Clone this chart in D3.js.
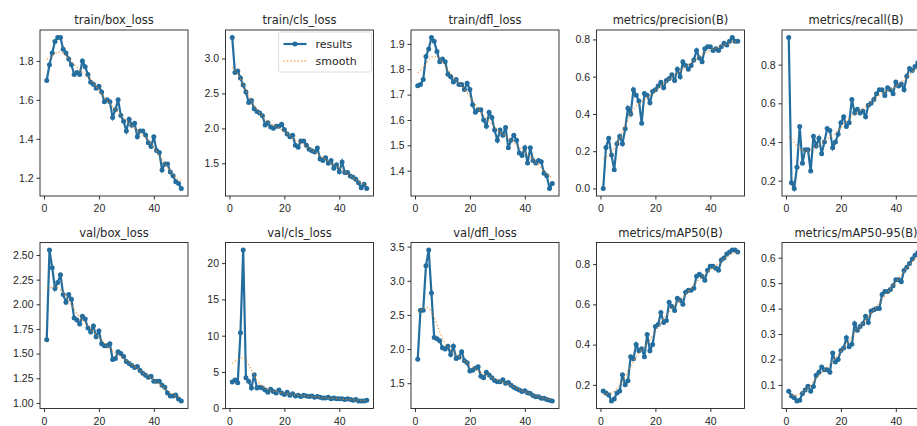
<!DOCTYPE html>
<html>
<head>
<meta charset="utf-8">
<script src="https://cdn.jsdelivr.net/npm/d3@7"></script>
<style>
  html, body { margin: 0; padding: 0; background: #fff; }
  svg { display: block; font-family: "DejaVu Sans", sans-serif; }
  .tick text { fill: #262626; font-size: 10.5px; }
  .tick line { stroke: #333; }
</style>
</head>
<body>
<svg id="chart"></svg>
<script>
'use strict';
const epochs = d3.range(1, 51);

const trainBoxLoss = [1.70, 1.78, 1.84, 1.90, 1.92, 1.92, 1.86, 1.84, 1.81, 1.78,
  1.73, 1.74, 1.73, 1.80, 1.77, 1.73, 1.69, 1.68, 1.66, 1.67,
  1.64, 1.59, 1.60, 1.59, 1.51, 1.55, 1.60, 1.52, 1.49, 1.44,
  1.50, 1.47, 1.48, 1.41, 1.44, 1.44, 1.42, 1.38, 1.36, 1.41,
  1.34, 1.33, 1.24, 1.27, 1.27, 1.23, 1.21, 1.18, 1.17, 1.145];
const trainClsLoss = [3.30, 2.80, 2.82, 2.72, 2.62, 2.52, 2.37, 2.40, 2.28, 2.24,
  2.22, 2.18, 2.05, 2.08, 2.02, 2.00, 2.03, 2.03, 2.06, 1.98,
  1.92, 1.88, 1.90, 1.76, 1.73, 1.82, 1.82, 1.76, 1.70, 1.68,
  1.66, 1.72, 1.56, 1.54, 1.58, 1.50, 1.54, 1.43, 1.48, 1.38,
  1.52, 1.37, 1.37, 1.32, 1.30, 1.27, 1.22, 1.15, 1.20, 1.14];
const trainDflLoss = [1.735, 1.74, 1.76, 1.85, 1.88, 1.925, 1.91, 1.87, 1.83, 1.84,
  1.83, 1.78, 1.77, 1.75, 1.76, 1.74, 1.74, 1.72, 1.745, 1.72,
  1.66, 1.63, 1.64, 1.64, 1.60, 1.575, 1.63, 1.61, 1.56, 1.52,
  1.56, 1.54, 1.57, 1.49, 1.52, 1.54, 1.52, 1.47, 1.46, 1.49,
  1.43, 1.49, 1.44, 1.43, 1.44, 1.435, 1.39, 1.38, 1.33, 1.35];
const precision = [0.00, 0.22, 0.27, 0.18, 0.10, 0.24, 0.28, 0.24, 0.32, 0.43,
  0.40, 0.53, 0.50, 0.47, 0.35, 0.51, 0.50, 0.46, 0.52, 0.53,
  0.55, 0.57, 0.54, 0.58, 0.59, 0.61, 0.58, 0.64, 0.60, 0.68,
  0.66, 0.64, 0.66, 0.69, 0.74, 0.70, 0.68, 0.75, 0.76, 0.76,
  0.74, 0.75, 0.74, 0.76, 0.78, 0.77, 0.79, 0.81, 0.79, 0.79];
const recall = [0.94, 0.19, 0.16, 0.27, 0.48, 0.29, 0.36, 0.36, 0.25, 0.43,
  0.38, 0.42, 0.34, 0.40, 0.47, 0.46, 0.37, 0.40, 0.44, 0.50,
  0.53, 0.48, 0.50, 0.62, 0.55, 0.57, 0.55, 0.56, 0.53, 0.59,
  0.60, 0.62, 0.65, 0.67, 0.67, 0.64, 0.68, 0.67, 0.65, 0.71,
  0.69, 0.70, 0.67, 0.74, 0.78, 0.77, 0.79, 0.81, 0.79, 0.80];
const valBoxLoss = [1.64, 2.55, 2.37, 2.16, 2.22, 2.30, 2.10, 2.02, 2.10, 2.05,
  1.86, 1.84, 1.80, 1.88, 1.85, 1.76, 1.72, 1.78, 1.67, 1.73,
  1.60, 1.58, 1.58, 1.60, 1.44, 1.45, 1.52, 1.50, 1.47, 1.42,
  1.40, 1.38, 1.36, 1.37, 1.33, 1.30, 1.28, 1.26, 1.27, 1.22,
  1.22, 1.22, 1.18, 1.16, 1.10, 1.07, 1.07, 1.08, 1.04, 1.02];
const valClsLoss = [3.6, 3.9, 3.5, 10.4, 21.8, 4.2, 3.7, 2.8, 4.6, 2.8,
  2.9, 2.8, 2.5, 2.2, 2.6, 2.3, 2.1, 2.5, 2.1, 1.9,
  2.2, 1.8, 2.0, 1.7, 1.8, 1.6, 1.8, 1.7, 1.6, 1.7,
  1.5, 1.6, 1.5, 1.4, 1.4, 1.5, 1.3, 1.4, 1.3, 1.3,
  1.3, 1.2, 1.3, 1.2, 1.1, 1.2, 1.0, 1.0, 1.0, 1.1];
const valDflLoss = [1.85, 2.57, 2.57, 3.22, 3.45, 2.82, 2.17, 2.15, 2.12, 2.02,
  2.00, 2.04, 1.92, 2.04, 1.86, 1.88, 1.96, 1.83, 1.80, 1.68,
  1.69, 1.72, 1.74, 1.60, 1.58, 1.66, 1.62, 1.58, 1.54, 1.52,
  1.52, 1.55, 1.50, 1.51, 1.47, 1.44, 1.42, 1.40, 1.38, 1.39,
  1.36, 1.35, 1.32, 1.30, 1.30, 1.28, 1.28, 1.26, 1.25, 1.24];
const mAP50 = [0.17, 0.16, 0.15, 0.12, 0.13, 0.16, 0.17, 0.25, 0.20, 0.22,
  0.34, 0.33, 0.40, 0.37, 0.38, 0.34, 0.45, 0.37, 0.40, 0.49,
  0.50, 0.56, 0.51, 0.52, 0.61, 0.59, 0.57, 0.63, 0.62, 0.60,
  0.66, 0.67, 0.67, 0.68, 0.74, 0.75, 0.74, 0.72, 0.77, 0.79,
  0.79, 0.78, 0.77, 0.82, 0.83, 0.85, 0.86, 0.87, 0.87, 0.86];
const mAP5095 = [0.075, 0.056, 0.05, 0.037, 0.04, 0.066, 0.08, 0.095, 0.075, 0.094,
  0.138, 0.15, 0.17, 0.16, 0.16, 0.15, 0.225, 0.19, 0.20, 0.235,
  0.245, 0.285, 0.25, 0.26, 0.34, 0.315, 0.33, 0.34, 0.37, 0.345,
  0.39, 0.395, 0.40, 0.40, 0.455, 0.467, 0.467, 0.475, 0.49, 0.513,
  0.513, 0.505, 0.55, 0.562, 0.577, 0.595, 0.61, 0.62, 0.62, 0.63];

const titles = ['train/box_loss', 'train/cls_loss', 'train/dfl_loss', 'metrics/precision(B)', 'metrics/recall(B)',
  'val/box_loss', 'val/cls_loss', 'val/dfl_loss', 'metrics/mAP50(B)', 'metrics/mAP50-95(B)'];
const xTicks = [0, 20, 40];
const yTicks = [
  [1.2, 1.4, 1.6, 1.8],
  [1.5, 2.0, 2.5, 3.0],
  [1.4, 1.5, 1.6, 1.7, 1.8, 1.9],
  [0.0, 0.2, 0.4, 0.6, 0.8],
  [0.2, 0.4, 0.6, 0.8],
  [1.00, 1.25, 1.50, 1.75, 2.00, 2.25, 2.50],
  [0, 5, 10, 15, 20],
  [1.5, 2.0, 2.5, 3.0, 3.5],
  [0.2, 0.4, 0.6, 0.8],
  [0.1, 0.2, 0.3, 0.4, 0.5, 0.6]
];
const yFormats = ['.1f', '.1f', '.1f', '.1f', '.1f', '.2f', 'd', '.1f', '.1f', '.1f'];
const series = [trainBoxLoss, trainClsLoss, trainDflLoss, precision, recall,
  valBoxLoss, valClsLoss, valDflLoss, mAP50, mAP5095];
const legendLabels = ['results', 'smooth'];

const W = 917, H = 426;
const lineColor = '#236e9e', smoothColor = '#ff7f0e';
const svg = d3.select('#chart').attr('width', W).attr('height', H);

// gaussian smoothing like scipy gaussian_filter1d (sigma 3, reflect)
function smooth(y, sigma) {
    var r = Math.floor(4 * sigma + 0.5), k = [], s = 0;
    for (var i = -r; i <= r; i++) { var v = Math.exp(-0.5 * i * i / (sigma * sigma)); k.push(v); s += v; }
    k = k.map(function(v) { return v / s; });
    var n = y.length;
    function at(i) {
        while (i < 0 || i >= n) { i = i < 0 ? -i - 1 : 2 * n - i - 1; }
        return y[i];
    }
    return y.map(function(_, j) {
        var acc = 0;
        for (var i = -r; i <= r; i++) acc += k[i + r] * at(j + i);
        return acc;
    });
}
function pad(ext) {
    var m = (ext[1] - ext[0]) * 0.05;
    return [ext[0] - m, ext[1] + m];
}

const pw = 148, ph = 166;
series.forEach(function(vals, i) {
    var col = i % 5, row = Math.floor(i / 5);
    var left = 40 + col * 185.5, top = row ? 242.5 : 30;
    var g = svg.append('g').attr('transform', 'translate(' + left + ',' + top + ')');
    var sm = smooth(vals, 3);
    var x = d3.scaleLinear().domain(pad(d3.extent(epochs))).range([0, pw]);
    var y = d3.scaleLinear().domain(pad(d3.extent(vals.concat(sm)))).range([ph, 0]);

    g.append('g').attr('transform', 'translate(0,' + ph + ')')
        .call(d3.axisBottom(x).tickValues(xTicks).tickSize(3.5).tickPadding(5.5).tickFormat(d3.format('d')))
        .call(function(a) { a.select('.domain').remove(); a.selectAll('text').attr('font-size', null); });
    g.append('g')
        .call(d3.axisLeft(y).tickValues(yTicks[i]).tickSize(3.5).tickPadding(3).tickFormat(d3.format(yFormats[i])))
        .call(function(a) { a.select('.domain').remove(); a.selectAll('text').attr('font-size', null); });

    var pts = epochs.map(function(e, j) { return [e, vals[j], sm[j]]; });
    g.append('path').datum(pts)
        .attr('fill', 'none').attr('stroke', lineColor).attr('stroke-width', 2.2)
        .attr('d', d3.line().x(function(d) { return x(d[0]); }).y(function(d) { return y(d[1]); }));
    g.selectAll('circle.pt').data(pts).enter().append('circle')
        .attr('class', 'pt').attr('r', 2.5).attr('fill', lineColor)
        .attr('cx', function(d) { return x(d[0]); }).attr('cy', function(d) { return y(d[1]); });
    g.append('path').datum(pts)
        .attr('fill', 'none').attr('stroke', smoothColor).attr('stroke-width', 1.3)
        .attr('stroke-dasharray', '1.3,2.2').attr('opacity', 0.75)
        .attr('d', d3.line().x(function(d) { return x(d[0]); }).y(function(d) { return y(d[2]); }));

    g.append('rect').attr('width', pw).attr('height', ph)
        .attr('fill', 'none').attr('stroke', '#222').attr('stroke-width', 0.9);
    g.append('text').attr('x', pw / 2).attr('y', -6).attr('text-anchor', 'middle')
        .attr('font-size', 11.5).attr('fill', '#262626').text(titles[i]);

    if (i === 1) {
        var lg = g.append('g').attr('transform', 'translate(' + (pw - 95) + ',2)');
        lg.append('rect').attr('width', 93).attr('height', 40).attr('rx', 2)
            .attr('fill', '#fff').attr('fill-opacity', 0.8).attr('stroke', '#d6d6d6').attr('stroke-width', 0.8);
        lg.append('line').attr('x1', 5).attr('x2', 28).attr('y1', 12).attr('y2', 12)
            .attr('stroke', lineColor).attr('stroke-width', 2.2);
        lg.append('circle').attr('cx', 16.5).attr('cy', 12).attr('r', 2.5).attr('fill', lineColor);
        lg.append('line').attr('x1', 5).attr('x2', 28).attr('y1', 29).attr('y2', 29)
            .attr('stroke', smoothColor).attr('stroke-width', 1.3).attr('stroke-dasharray', '1.3,2.2').attr('opacity', 0.75);
        lg.selectAll('text.lab').data(legendLabels).enter().append('text')
            .attr('class', 'lab').attr('x', 37).attr('y', function(d, k) { return 16 + k * 17; })
            .attr('font-size', 11).attr('fill', '#262626').text(function(d) { return d; });
    }
});
</script>
</body>
</html>
